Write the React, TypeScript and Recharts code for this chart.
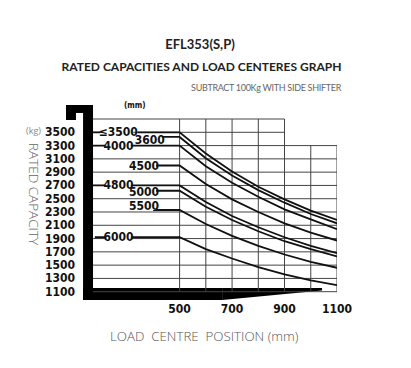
import { LineChart, Line, XAxis, YAxis, ReferenceArea, ReferenceDot } from 'recharts'

// load centre positions (mm) where the curves are read
const loadCentres = [500, 600, 700, 800, 900, 1000, 1100]

// lift height labels, one per curve
const liftHeights = ['≤3500', '3600', '4000', '4500', '4800', '5000', '5500', '6000']

// rated capacity (kg) at each load centre, per lift height
const cap3500 = [3500, 3180, 2910, 2680, 2490, 2320, 2180]
const cap3600 = [3430, 3110, 2850, 2630, 2440, 2270, 2130]
const cap4000 = [3300, 2990, 2740, 2530, 2340, 2190, 2040]
const cap4500 = [3000, 2720, 2490, 2300, 2130, 1990, 1870]
const cap4800 = [2700, 2450, 2240, 2070, 1920, 1790, 1680]
const cap5000 = [2620, 2380, 2180, 2010, 1860, 1740, 1630]
const cap5500 = [2330, 2120, 1940, 1790, 1660, 1550, 1460]
const cap6000 = [1920, 1740, 1600, 1470, 1360, 1270, 1200]

const yTicks = [1100, 1300, 1500, 1700, 1900, 2100, 2300, 2500, 2700, 2900, 3100, 3300, 3500]
const xTicks = [500, 700, 900, 1100]
const gridRows = [1100, 1300, 1500, 1700, 1900, 2100, 2300, 2500, 2700, 2900, 3100, 3300, 3500, 3700]
const gridCols = [500, 600, 700, 800, 900, 1000, 1100]

const series = [cap3500, cap3600, cap4000, cap4500, cap4800, cap5000, cap5500, cap6000]

// where each label sits on the flat part (x in mm units) and optional lead line
const labelLayout = [
  { lead: [170, 198], at: 266, from: 340, dy: 0 },
  { lead: null, at: 386, from: 422, dy: 3 },
  { lead: [170, 216], at: 267, from: 315, dy: 0 },
  { lead: null, at: 364, from: 410, dy: 0 },
  { lead: [170, 216], at: 267, from: 315, dy: 0 },
  { lead: null, at: 364, from: 410, dy: 1 },
  { lead: null, at: 364, from: 399, dy: -4 },
  { lead: [177, 219], at: 267, from: 315, dy: 0 },
]

const tickFont = "'Liberation Sans Narrow', 'DejaVu Sans Condensed', sans-serif"

function buildLine(vals: number[], i: number) {
  const lay = labelLayout[i]
  const pts: { x: number; y: number | null }[] = []
  if (lay.lead) {
    pts.push({ x: lay.lead[0], y: vals[0] }, { x: lay.lead[1], y: vals[0] })
    pts.push({ x: (lay.lead[1] + lay.from) / 2, y: null })
  }
  pts.push({ x: lay.from, y: vals[0] })
  loadCentres.forEach((c, k) => pts.push({ x: c, y: vals[k] }))
  return pts
}

// built once, so every series keeps a stable data array
const curveData = series.map((vals, i) => buildLine(vals, i))
const rowData = gridRows.map((v) => [
  { x: 170, y: v },
  { x: v >= 3500 ? 900 : 1100, y: v },
])
const colData = gridCols.map((c) => [
  { x: c, y: 1100 },
  { x: c, y: c <= 900 ? 3700 : 3300 },
])

const YTick = (props: any) => {
  const { x, y, payload } = props
  return (
    <text x={x + 9} y={y} dy={4} textAnchor="end" fontFamily={tickFont} fontWeight={700} fontSize={12} fill="#111">
      {payload.value}
    </text>
  )
}

const CurveLabel = (text: string, dy: number) => (p: any) => {
  const w = text.length * 5.6 + 2
  return (
    <g>
      <rect x={p.cx - w / 2} y={p.cy + dy - 4} width={w} height={8} fill="#fff" />
      <text x={p.cx} y={p.cy + dy} dy={4} textAnchor="middle" fontFamily={tickFont} fontWeight={700} fontSize={12} fill="#111">
        {text}
      </text>
    </g>
  )
}

const wedge = (p: any) => (
  <polygon
    points={`${p.x},${p.y} ${p.x + p.width},${p.y} ${p.x + p.width},${p.y + p.height * 0.2} ${p.x},${p.y + p.height}`}
    fill="#000"
  />
)

export default function App() {
  const grey = '#666'
  return (
    <div style={{ position: 'absolute', left: 0, top: 0, width: 411, height: 368, fontFamily: "'Open Sans', sans-serif" }}>
      <div style={{ position: 'absolute', left: 0, width: 400, top: 36, textAlign: 'center', fontSize: 13, fontWeight: 700, color: '#222', fontFamily: 'Lato, sans-serif' }}>
        EFL353(S,P)
      </div>
      <div style={{ position: 'absolute', left: 0, width: 403, top: 59, textAlign: 'center', fontSize: 12, fontWeight: 700, color: '#222', fontFamily: 'Lato, sans-serif' }}>
        RATED CAPACITIES AND LOAD CENTERES GRAPH
      </div>
      <div style={{ position: 'absolute', right: 70, top: 82, fontSize: 9, letterSpacing: -0.3, color: grey, fontFamily: 'Lato, sans-serif' }}>
        SUBTRACT 100Kg WITH SIDE SHIFTER
      </div>
      <div style={{ position: 'absolute', left: 26, top: 124, fontSize: 9, color: '#888' }}>(kg)</div>
      <div style={{ position: 'absolute', left: 25, top: 143, writingMode: 'vertical-rl', fontSize: 13.5, color: grey, fontWeight: 300 }}>
        RATED CAPACITY
      </div>
      <div style={{ position: 'absolute', left: 124, top: 101, fontSize: 8, fontWeight: 700, color: '#111', fontFamily: tickFont }}>(mm)</div>
      <div style={{ position: 'absolute', left: 110, top: 327, fontSize: 13.3, color: '#555', whiteSpace: 'pre', fontWeight: 300 }}>
        {'LOAD  CENTRE  POSITION (mm)'}
      </div>

      <LineChart width={411} height={368} margin={{ top: 105, right: 74, bottom: 38, left: 6 }}>
        <XAxis
          type="number"
          dataKey="x"
          domain={[67, 1100]}
          ticks={xTicks}
          interval={0}
          allowDataOverflow
          axisLine={false}
          tickLine={false}
          tickSize={0}
          tickMargin={4}
          height={30}
          tick={{ fontFamily: tickFont, fontWeight: 700, fontSize: 12, fill: '#111' }}
        />
        <YAxis
          type="number"
          domain={[975, 3911]}
          ticks={yTicks}
          interval={0}
          allowDataOverflow
          axisLine={false}
          tickLine={false}
          tickSize={0}
          tickMargin={0}
          width={60}
          tick={YTick}
        />
        {/* frame */}
        <ReferenceArea x1={132} x2={170} y1={975} y2={3911} fill="#000" fillOpacity={1} />
        <ReferenceArea x1={67} x2={170} y1={3791} y2={3911} fill="#000" fillOpacity={1} />
        <ReferenceArea x1={67} x2={105} y1={3685} y2={3911} fill="#000" fillOpacity={1} />
        <ReferenceArea x1={132} x2={662} y1={975} y2={1156} fill="#000" fillOpacity={1} />
        <ReferenceArea x1={662} x2={1043} y1={975} y2={1156} shape={wedge} />
        {rowData.map((d, k) => (
          <Line
            key={'row' + gridRows[k]}
            data={d}
            dataKey="y"
            stroke="#444"
            strokeWidth={1}
            dot={false}
            activeDot={false}
            isAnimationActive={false}
          />
        ))}
        {colData.map((d, k) => (
          <Line
            key={'col' + gridCols[k]}
            data={d}
            dataKey="y"
            stroke="#444"
            strokeWidth={1}
            dot={false}
            activeDot={false}
            isAnimationActive={false}
          />
        ))}
        {curveData.map((d, i) => (
          <Line
            key={liftHeights[i]}
            data={d}
            dataKey="y"
            stroke="#111"
            strokeWidth={1.8}
            dot={false}
            activeDot={false}
            isAnimationActive={false}
            connectNulls={false}
          />
        ))}
        {series.map((vals, i) => (
          <ReferenceDot
            key={'l' + i}
            x={labelLayout[i].at}
            y={vals[0]}
            r={0}
            shape={CurveLabel(liftHeights[i], labelLayout[i].dy)}
          />
        ))}
      </LineChart>
    </div>
  )
}
